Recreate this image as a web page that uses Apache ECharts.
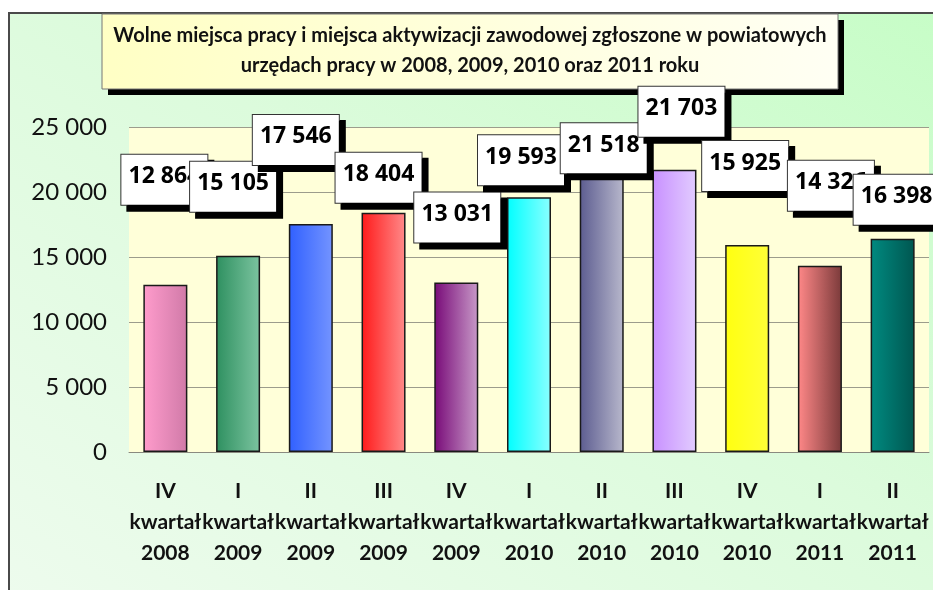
<!DOCTYPE html>
<html>
<head>
<meta charset="utf-8">
<script src="https://cdn.jsdelivr.net/npm/echarts@6/dist/echarts.min.js"></script>
<style>
  html, body {
    margin: 0;
    padding: 0;
    background: #ffffff;
    overflow: hidden;
  }
  .frame {
    position: absolute;
    left: 8px;
    top: 12px;
    width: 960px;
    height: 620px;
    border-left: 2px solid #4a4a4a;
    border-top: 2px solid #4a4a4a;
    background: linear-gradient(to bottom left, #c6fdc6 0%, #dcfbdc 45%, #eefbee 100%);
  }
  #chart {
    position: absolute;
    left: 0;
    top: 0;
    width: 933px;
    height: 590px;
  }
</style>
</head>
<body>
<div class="frame"></div>
<div id="chart"></div>
<script>
  var quarters = ["IV", "I", "II", "III", "IV", "I", "II", "III", "IV", "I", "II"];
  var years = ["2008", "2009", "2009", "2009", "2009", "2010", "2010", "2010", "2010", "2011", "2011"];
  var values = [12864, 15105, 17546, 18404, 13031, 19593, 21518, 21703, 15925, 14326, 16398];
  var yTicks = [0, 5000, 10000, 15000, 20000, 25000];

  // bar fills, left -> right
  var barColors = [
    ["#ff9ccc", "#d07aa8"],
    ["#2e9060", "#7cc4a0"],
    ["#3060ff", "#7494ff"],
    ["#ff1a1a", "#ff8a8a"],
    ["#780a78", "#c89ac8"],
    ["#00ffff", "#8affff"],
    ["#5c5c90", "#b8b8cc"],
    ["#c890ff", "#e2ccff"],
    ["#ffff10", "#ffff38"],
    ["#ff8888", "#7a3a3a"],
    ["#008a80", "#005650"]
  ];
  // labels were moved by hand in the original
  var labelShift = [[-1, -80], [-5, -44], [-15, -59], [-5, -10], [1, -40], [-8, -12],
                    [2, 1], [7, -33], [-2, -54], [11, -55], [4, -14]];

  var categories = quarters.map(function (q, i) {
    return q + "\nkwartał\n" + years[i];
  });

  function spaced(n) {
    return String(n).replace(/\B(?=(\d{3})+(?!\d))/g, " ");
  }

  var chart = echarts.init(document.getElementById("chart"), null, { renderer: "canvas" });

  var option = {
    backgroundColor: "transparent",
    animation: false,
    graphic: [
      {
        type: "rect",
        z: 1,
        shape: { x: 108, y: 20, width: 736, height: 75 },
        style: { fill: "#000" }
      },
      {
        type: "rect",
        z: 1,
        shape: { x: 102, y: 14, width: 736, height: 75 },
        style: {
          fill: new echarts.graphic.LinearGradient(0, 0, 1, 1, [
            { offset: 0, color: "#ffffc4" },
            { offset: 1, color: "#fffff4" }
          ]),
          stroke: "#777",
          lineWidth: 1
        }
      },
      {
        type: "text",
        z: 1,
        x: 470,
        y: 51,
        style: {
          text: "Wolne miejsca pracy i miejsca aktywizacji zawodowej zgłoszone w powiatowych\nurzędach pracy w 2008, 2009, 2010 oraz 2011 roku",
          fill: "#111",
          font: "bold 20px Lato",
          lineHeight: 30,
          align: "center",
          verticalAlign: "middle"
        }
      }
    ],
    grid: {
      left: 129,
      right: 4,
      top: 127,
      bottom: 138,
      show: true,
      backgroundColor: "#ffffd9",
      borderWidth: 0
    },
    xAxis: {
      type: "category",
      data: categories,
      axisTick: { show: false },
      axisLine: { lineStyle: { color: "#8a8a80", width: 1 } },
      axisLabel: {
        interval: 0,
        margin: 24,
        color: "#111",
        fontFamily: "Lato",
        fontWeight: "bold",
        fontSize: 21,
        lineHeight: 31
      }
    },
    yAxis: {
      type: "value",
      min: yTicks[0],
      max: yTicks[yTicks.length - 1],
      interval: yTicks[1] - yTicks[0],
      axisLine: { show: false },
      axisTick: { show: false },
      splitLine: { lineStyle: { color: "#9c9c8c", width: 1 } },
      axisLabel: {
        margin: 22,
        color: "#111",
        fontFamily: "Lato",
        fontSize: 24,
        formatter: spaced
      }
    },
    series: [
      {
        type: "bar",
        barWidth: 44,
        data: values.map(function (v, i) {
          return {
            value: v,
            itemStyle: {
              color: new echarts.graphic.LinearGradient(0, 0, 1, 0, [
                { offset: 0, color: barColors[i][0] },
                { offset: 1, color: barColors[i][1] }
              ])
            },
            label: { offset: labelShift[i] }
          };
        }),
        itemStyle: { borderColor: "#1a1a1a", borderWidth: 1.5 },
        label: {
          show: true,
          position: "top",
          distance: 0,
          formatter: function (p) { return spaced(p.value); },
          color: "#000",
          fontFamily: "Noto Sans",
          fontWeight: "bold",
          fontSize: 23,
          width: 74,
          height: 24,
          lineHeight: 24,
          align: "center",
          padding: [10, 6, 16, 6],
          backgroundColor: "#ffffff",
          borderColor: "#333",
          borderWidth: 1,
          shadowColor: "#000",
          shadowOffsetX: 6,
          shadowOffsetY: 6,
          shadowBlur: 0
        }
      }
    ]
  };

  chart.setOption(option);
</script>
</body>
</html>
